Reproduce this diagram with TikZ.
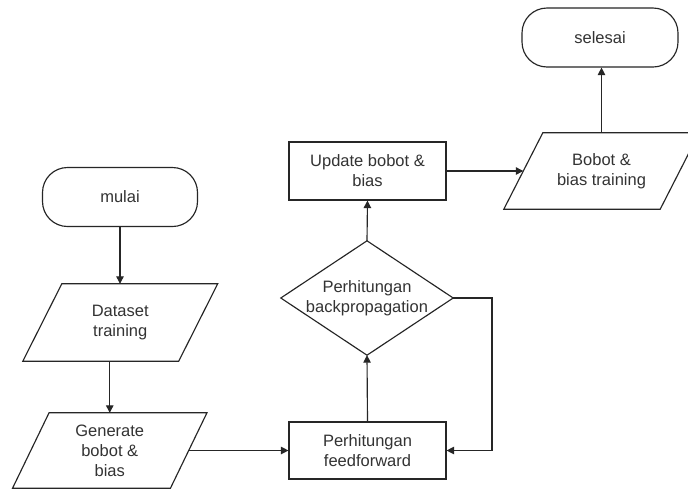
\documentclass[tikz,border=0pt]{standalone}
\usepackage{fontspec}
\setmainfont{Liberation Sans}
\usetikzlibrary{arrows.meta}
\begin{document}
\begin{tikzpicture}[x=1pt,y=-1pt,
  every node/.style={font=\fontsize{16.5}{20}\selectfont, text=black!80, align=center, inner sep=0pt},
  line/.style={draw=black!85, line width=1.15pt},
  arr/.style={line, -{Triangle[length=7.5pt,width=7.5pt]}},
  term/.style={line, rounded corners=25pt, minimum width=155pt, minimum height=59pt},
  proc/.style={line, minimum width=157pt, minimum height=57pt}
]
\clip (0,0) rectangle (688,491);
\fill[white] (0,0) rectangle (688,491);

% terminators
\node[term] (mulai) at (120,197) {mulai};
\node[term, minimum width=156pt] (selesai) at (600,37.5) {selesai};

% parallelograms (invisible body, drawn outline)
\node[minimum width=155.5pt, minimum height=77pt] (data) at (120.25,322.5) {Dataset\\training};
\draw[line] ([xshift=19.5pt]data.north west) -- ([xshift=19.5pt]data.north east)
  -- ([xshift=-19.5pt]data.south east) -- ([xshift=-19.5pt]data.south west) -- cycle;

\node[minimum width=157.5pt, minimum height=75pt] (gen) at (109.75,450.5) {Generate\\bobot \&\\bias};
\draw[line] ([xshift=18.25pt]gen.north west) -- ([xshift=18.25pt]gen.north east)
  -- ([xshift=-18.25pt]gen.south east) -- ([xshift=-18.25pt]gen.south west) -- cycle;

\node[minimum width=156pt, minimum height=76pt] (bobot) at (601.5,171) {Bobot \&\\bias training};
\draw[line] ([xshift=19.5pt]bobot.north west) -- ([xshift=19.5pt]bobot.north east)
  -- ([xshift=-19.5pt]bobot.south east) -- ([xshift=-19.5pt]bobot.south west) -- cycle;

% processes
\node[proc] (feed) at (367.5,450.5) {Perhitungan\\feedforward};
\node[proc, minimum height=58pt] (update) at (367.5,171) {Update bobot \&\\bias};

% decision
\node[minimum width=172pt, minimum height=114pt] (back) at (367,298) {Perhitungan\\backpropagation};
\draw[line] (back.north) -- (back.east) -- (back.south) -- (back.west) -- cycle;

\coordinate (loop) at (492,298);

% connectors
\draw[arr] (mulai.south) -- (mulai.south |- data.north);
\draw[arr] (gen.north |- data.south) -- (gen.north);
\draw[arr] (gen.east) -- (feed.west);
\draw[arr] (feed.north) -- (back.south);
\draw[arr] (back.east) -- (loop) -- (loop |- feed.east) -- (feed.east);
\draw[arr] (back.north) -- (update.south);
\draw[arr] (update.east) -- (bobot.west);
\draw[arr] (bobot.north) -- (bobot.north |- selesai.south);
\end{tikzpicture}
\end{document}
